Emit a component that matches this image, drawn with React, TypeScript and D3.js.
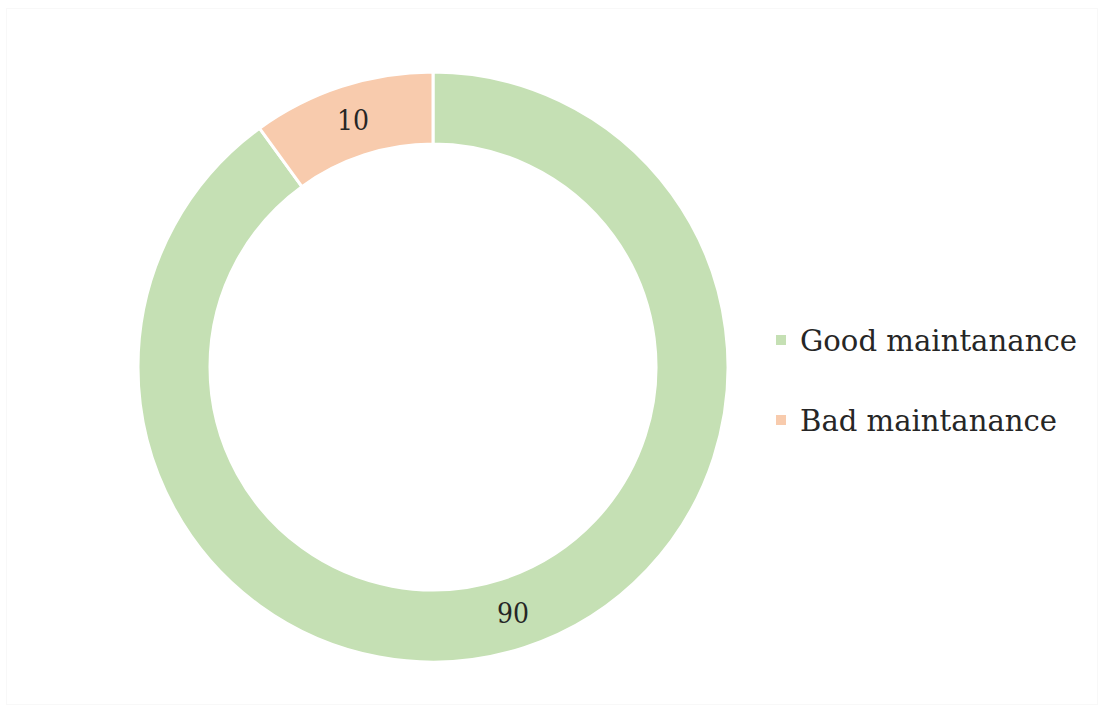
import React from "react";
import * as d3 from "d3";

const categories = ["Good maintanance", "Bad maintanance"];
const values = [90, 10];
const colors = ["#c5e0b4", "#f8cbad"];

const W = 1104;
const H = 713;
const cx = 433;
const cy = 367;
const outerR = 295;
const innerR = 223;

export default function App() {
  const pie = d3.pie<number>().sort(null).value((d) => d)(values);
  const arc = d3.arc<d3.PieArcDatum<number>>().innerRadius(innerR).outerRadius(outerR);
  const font = "'DejaVu Serif', serif";
  return (
    <svg
      width={W}
      height={H}
      style={{ position: "absolute", left: 0, top: 0, display: "block", background: "#fff" }}
    >
      <rect x={6.5} y={8.5} width={W - 13} height={H - 17} fill="#fff" stroke="#f8f8f8" strokeWidth={1} />
      <g transform={`translate(${cx},${cy})`}>
        {pie.map((p, i) => (
          <path key={i} d={arc(p) || ""} fill={colors[i]} stroke="#fff" strokeWidth={3} />
        ))}
        {pie.map((p, i) => {
          const [x, y] = arc.centroid(p);
          return (
            <text
              key={"l" + i}
              x={x}
              y={y}
              textAnchor="middle"
              dominantBaseline="central"
              fontFamily={font}
              fontSize={28}
              textLength={32}
              lengthAdjust="spacingAndGlyphs"
              fill="#262626"
            >
              {values[i]}
            </text>
          );
        })}
      </g>
      {categories.map((c, i) => (
        <g key={c} transform={`translate(776,${340 + i * 80})`}>
          <rect x={0} y={-5} width={10} height={10} fill={colors[i]} />
          <text
            x={24}
            y={1}
            dominantBaseline="central"
            fontFamily={font}
            fontSize={29}
            textLength={i === 0 ? 277 : 257}
            lengthAdjust="spacingAndGlyphs"
            fill="#262626"
          >
            {c}
          </text>
        </g>
      ))}
    </svg>
  );
}
